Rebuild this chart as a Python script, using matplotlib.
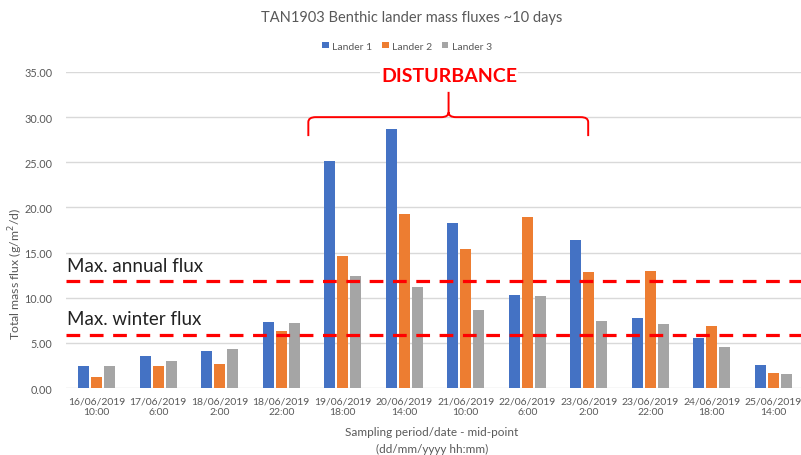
import matplotlib
matplotlib.use("Agg")
import matplotlib.pyplot as plt
import numpy as np
from matplotlib.path import Path
from matplotlib.patches import PathPatch

plt.rcParams['font.family'] = ['Lato', 'DejaVu Sans']

categories = ["16/06/2019\n10:00", "17/06/2019\n6:00", "18/06/2019\n2:00",
              "18/06/2019\n22:00", "19/06/2019\n18:00", "20/06/2019\n14:00",
              "21/06/2019\n10:00", "22/06/2019\n6:00", "23/06/2019\n2:00",
              "23/06/2019\n22:00", "24/06/2019\n18:00", "25/06/2019\n14:00"]
lander1 = [2.4, 3.5, 4.1, 7.3, 25.1, 28.7, 18.3, 10.3, 16.4, 7.8, 5.5, 2.6]
lander2 = [1.25, 2.4, 2.7, 6.3, 14.6, 19.3, 15.4, 18.9, 12.9, 13.0, 6.9, 1.65]
lander3 = [2.4, 3.0, 4.3, 7.2, 12.4, 11.2, 8.6, 10.2, 7.4, 7.1, 4.5, 1.55]
series_names = ["Lander 1", "Lander 2", "Lander 3"]
colors = ["#4472C4", "#ED7D31", "#A5A5A5"]
max_annual = 11.8
max_winter = 5.9
yticks = [0, 5, 10, 15, 20, 25, 30, 35]

W, H = 801, 456
fig = plt.figure(figsize=(W/100, H/100), dpi=100)
ax = fig.add_axes([66/W, 1-389/H, (801-66)/W, (389-73)/H])

x = np.arange(len(categories))
bw = 0.18
step = 0.21
for i, (vals, name, c) in enumerate(zip([lander1, lander2, lander3], series_names, colors)):
    ax.bar(x + (i-1)*step, vals, width=bw, color=c, label=name, zorder=3)

ax.set_xlim(-0.5, 11.45)
ax.set_ylim(0, 35)
ax.set_yticks(yticks)
ax.set_yticklabels([f"{v:.2f}" for v in yticks])
ax.set_xticks(x)
ax.set_xticklabels(categories, linespacing=1.3)
ax.grid(axis='y', color='#D9D9D9', lw=1, zorder=0)
for s in ax.spines.values():
    s.set_visible(False)
ax.tick_params(axis='both', length=0, colors='#595959')
ax.tick_params(axis='y', pad=10, labelsize=7.8)
ax.tick_params(axis='x', pad=6, labelsize=7.5)

# reference lines
for val, txt in [(max_annual, "Max. annual flux"), (max_winter, "Max. winter flux")]:
    ax.axhline(val, color='#FF0000', lw=2.3, linestyle=(0, (4.3, 3)), zorder=4)
    ax.text(-0.49, val + 0.85, txt, fontsize=13.5, color='#222222', va='bottom', ha='left', zorder=5)

# disturbance brace
xl, xr, xm = 3.44, 7.99, 5.72
yh, ye, yt = 30.0, 27.9, 32.8
dx, dy = 0.12, 0.55
verts = [
    (xl, ye), (xl, yh - dy), (xl, yh), (xl + dx, yh),
    (xm - dx, yh), (xm, yh), (xm, yh + dy), (xm, yt),
    (xm, yh + dy), (xm, yh), (xm + dx, yh),
    (xr - dx, yh), (xr, yh), (xr, yh - dy), (xr, ye),
]
codes = [Path.MOVETO, Path.LINETO, Path.CURVE3, Path.CURVE3,
         Path.LINETO, Path.CURVE3, Path.CURVE3, Path.LINETO,
         Path.MOVETO, Path.CURVE3, Path.CURVE3,
         Path.LINETO, Path.CURVE3, Path.CURVE3, Path.LINETO]
ax.add_patch(PathPatch(Path(verts, codes), facecolor='none', edgecolor='#FF0000',
                       lw=1.4, zorder=5, clip_on=False))
fig.text(449/W, 1-76/H, "DISTURBANCE", color='#FF0000', fontsize=14, fontweight='bold',
         ha='center', va='center',
         bbox=dict(facecolor='white', edgecolor='none', pad=1))

# title and legend
fig.text(412/W, 1-18/H, "TAN1903 Benthic lander mass fluxes ~10 days", color='#595959',
         fontsize=10.5, ha='center', va='center')
leg = fig.legend(loc='center', bbox_to_anchor=(407/W, 1-47/H), ncol=3, frameon=False,
                 fontsize=7.5, handlelength=0.6, handleheight=0.6, handletextpad=0.3,
                 columnspacing=1.0, labelcolor='#595959')

# axis labels
fig.text(16/W, 1-274/H, "Total mass flux (g/m$^2$/d)", rotation=90, color='#595959',
         fontsize=8.8, ha='center', va='center')
fig.text(432/W, 1-433/H, "Sampling period/date - mid-point", color='#595959',
         fontsize=8.5, ha='center', va='center')
fig.text(432/W, 1-449/H, "(dd/mm/yyyy hh:mm)", color='#595959',
         fontsize=8.5, ha='center', va='center')

fig.savefig("out.png", dpi=100)
